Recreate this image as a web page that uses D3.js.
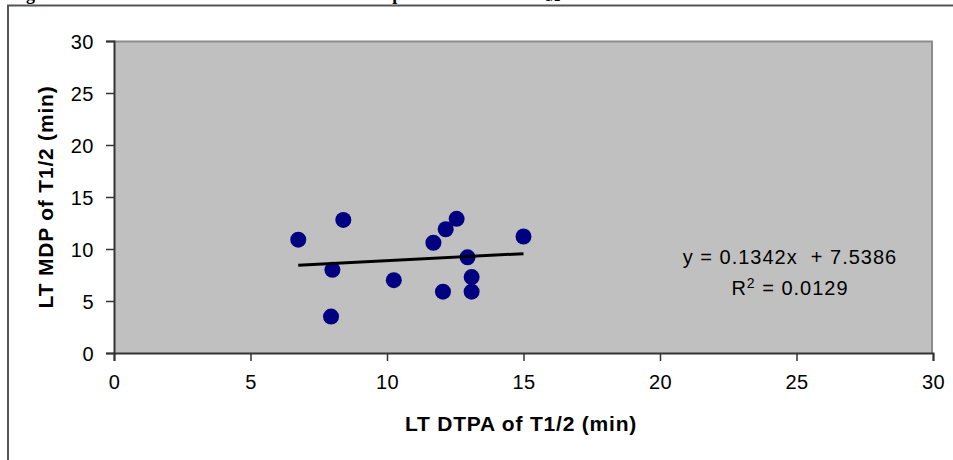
<!DOCTYPE html>
<html>
<head>
<meta charset="utf-8">
<script src="https://cdn.jsdelivr.net/npm/d3@7"></script>
<style>
  body { margin: 0; background: #fff; }
  svg { display: block; }
  .tick text { font-family: Arial, "Liberation Sans", sans-serif; font-size: 20px; fill: #000; letter-spacing: 0.5px; }
  .axis-title { font-family: Arial, "Liberation Sans", sans-serif; font-size: 21px; font-weight: bold; letter-spacing: 0.8px; }
  .fit-label { font-family: Arial, "Liberation Sans", sans-serif; font-size: 20px; letter-spacing: 1px; }
  .caption { font-family: "Liberation Serif", "Times New Roman", serif; font-size: 18px; font-weight: bold; }
</style>
</head>
<body>
<div id="chart"></div>
<script>
// data (LT DTPA vs LT MDP, T1/2 in min)
var dtpa = [6.75, 8.4, 8.0, 7.95, 10.25, 11.7, 12.15, 12.55, 12.05, 12.95, 13.1, 13.1, 15.0];
var mdp  = [10.9, 12.8, 8.0, 3.5, 7.0, 10.6, 11.9, 12.9, 5.9, 9.2, 7.3, 5.9, 11.2];

var xTicks = [0, 5, 10, 15, 20, 25, 30];
var yTicks = [0, 5, 10, 15, 20, 25, 30];

// linear trend shown on the chart
var slope = 0.1342;
var intercept = 7.5386;
var rSquared = "0.0129";

var xTitle = "LT DTPA of T1/2 (min)";
var yTitle = "LT MDP of T1/2 (min)";

var W = 953, H = 460;
var margin = { top: 41, right: 20, bottom: 107, left: 114 };
var width = W - margin.left - margin.right,
    height = H - margin.top - margin.bottom;

var root = d3.select("#chart").append("svg")
    .attr("width", W)
    .attr("height", H);

// caption of the page, only its lowest part is inside the picture
root.append("text").attr("class", "caption").attr("x", 10).attr("y", 0).text("Fig. 5");
root.append("text").attr("class", "caption").attr("x", 298).attr("y", 0).text("Correlation plot of LT DTPA");
var cap = root.append("text").attr("class", "caption").attr("x", 533).attr("y", -4).text("T");
cap.append("tspan").attr("dy", 5).style("font-size", "12px").text("1/2");

// frame around the figure
root.append("path")
    .attr("d", "M8,460 V5.5 H953")
    .attr("fill", "none")
    .attr("stroke", "#555")
    .attr("stroke-width", 2);

var svg = root.append("g")
    .attr("transform", "translate(" + margin.left + "," + margin.top + ")");

var x = d3.scaleLinear().domain([0, 30]).range([0, width]);
var y = d3.scaleLinear().domain([0, 30]).range([height, 0]);

// plot area
svg.append("rect")
    .attr("width", width)
    .attr("height", height)
    .attr("fill", "#c0c0c0");
svg.append("path")
    .attr("d", "M0,0.5 H" + (width - 1) + " V" + height)
    .attr("fill", "none")
    .attr("stroke", "#8c8c8c")
    .attr("stroke-width", 2);

var xAxis = d3.axisBottom(x).tickValues(xTicks).tickSize(8).tickPadding(14);
var yAxis = d3.axisLeft(y).tickValues(yTicks).tickSize(8).tickPadding(12);

svg.append("g")
    .attr("class", "x-axis axis")
    .attr("transform", "translate(0," + height + ")")
    .call(xAxis);

svg.append("g")
    .attr("class", "y-axis axis")
    .call(yAxis);

svg.selectAll(".axis path.domain").attr("stroke", "#333").attr("stroke-width", 2);
svg.selectAll(".axis line").attr("stroke", "#333").attr("stroke-width", 1.5);
svg.selectAll(".y-axis .tick text").attr("dy", "0.36em");

// points
var points = dtpa.map(function(d, i) { return { x: d, y: mdp[i] }; });

svg.selectAll(".dot").data(points)
  .enter().append("circle")
    .attr("class", "dot")
    .attr("cx", function(d) { return x(d.x); })
    .attr("cy", function(d) { return y(d.y); })
    .attr("r", 8)
    .attr("fill", "#000080");

// trend line over the data range
var x0 = d3.min(dtpa), x1 = d3.max(dtpa);
svg.append("line")
    .attr("x1", x(x0)).attr("y1", y(slope * x0 + intercept))
    .attr("x2", x(x1)).attr("y2", y(slope * x1 + intercept))
    .attr("stroke", "#000")
    .attr("stroke-width", 3);

// equation label
var eq = svg.append("g").attr("class", "fit-label").attr("text-anchor", "middle");
eq.append("text")
    .attr("x", 676).attr("y", 223)
    .attr("xml:space", "preserve")
    .text("y = " + slope + "x  + " + intercept);
var r2 = eq.append("text").attr("x", 676).attr("y", 254);
r2.append("tspan").text("R");
r2.append("tspan").attr("dy", -7).style("font-size", "14px").text("2");
r2.append("tspan").attr("dy", 7).text(" = " + rSquared);

// axis titles
svg.append("text")
    .attr("class", "axis-title")
    .attr("text-anchor", "middle")
    .attr("x", 407)
    .attr("y", 390)
    .text(xTitle);

svg.append("text")
    .attr("class", "axis-title")
    .attr("text-anchor", "middle")
    .attr("transform", "translate(" + (-61) + "," + 156 + ") rotate(-90)")
    .text(yTitle);
</script>
</body>
</html>
